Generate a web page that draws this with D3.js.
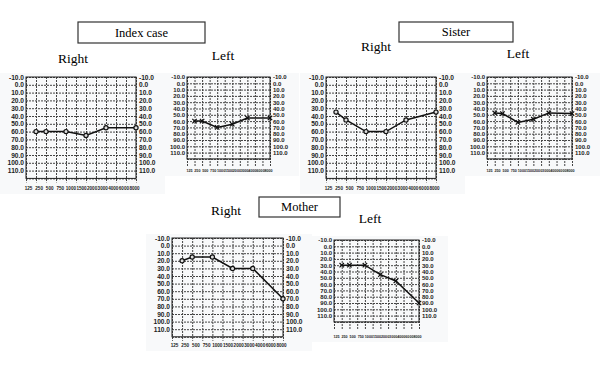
<!DOCTYPE html>
<html>
<head>
<meta charset="utf-8">
<script src="https://cdn.jsdelivr.net/npm/d3@7"></script>
<style>
  body { margin: 0; background: #fff; }
  svg { display: block; }
</style>
</head>
<body>
<div id="chart"></div>
<script>
// Frequency labels (Hz) and hearing level ticks (dB)
const freqLabels = ["125", "250", "500", "750", "1000", "1500", "2000", "3000", "4000", "6000", "8000"];
const dbTicks = [-10, 0, 10, 20, 30, 40, 50, 60, 70, 80, 90, 100, 110];
// grid column of each tested frequency (250, 500, 1000, 2000, 4000, 8000)
const testCols = [1, 2, 4, 6, 8, 11];

// Thresholds (dB HL)
const indexRight = [60, 60, 60, 65, 55, 55];
const indexLeft = [60, 60, 70, 65, 55, 55];
const sisterRight = [35, 45, 60, 60, 45, 35];
const sisterLeft = [47, 48, 62, 57, 47, 48];
const motherRight = [20, 15, 15, 30, 30, 70];
const motherLeft = [30, 30, 30, 45, 55, 90];

const width = 600, height = 365;

const svg = d3.select("#chart")
    .append("svg")
    .attr("width", width)
    .attr("height", height);

// Panel layout
const panels = [
    {vals: indexRight, ear: "R", x0: 26, x1: 136, y0: 77, row: 7.8, fs: 6.6, xl: 188, ext: 4, xf: 4.6},
    {vals: indexLeft, ear: "L", x0: 187, x1: 270, y0: 77, row: 6.3, fs: 6, xl: 170, ext: 8, xf: 3.7},
    {vals: sisterRight, ear: "R", x0: 326, x1: 436, y0: 77, row: 7.8, fs: 6.6, xl: 188, ext: 4, xf: 4.6},
    {vals: sisterLeft, ear: "L", x0: 487, x1: 572, y0: 77, row: 6.3, fs: 6, xl: 170, ext: 8, xf: 3.7},
    {vals: motherRight, ear: "R", x0: 172, x1: 283, y0: 238, row: 7.6, fs: 6.6, xl: 345, ext: 4, xf: 4.6},
    {vals: motherLeft, ear: "L", x0: 334, x1: 419, y0: 240, row: 6.3, fs: 6, xl: 336, ext: 8, xf: 3.7}
];

// Title boxes and ear labels
const boxes = [
    {text: "Index case", x: 78, y: 22, w: 127, h: 21},
    {text: "Sister", x: 399, y: 22, w: 114, h: 20},
    {text: "Mother", x: 259, y: 197, w: 81, h: 20}
];
const earTitles = [
    {text: "Right", x: 73, y: 63}, {text: "Left", x: 223, y: 60},
    {text: "Right", x: 376, y: 51}, {text: "Left", x: 518, y: 58},
    {text: "Right", x: 226, y: 215}, {text: "Left", x: 370, y: 223}
];

boxes.forEach(b => {
    svg.append("rect")
        .attr("x", b.x).attr("y", b.y)
        .attr("width", b.w).attr("height", b.h)
        .attr("fill", "#fff")
        .attr("stroke", "#333")
        .attr("stroke-width", 1.2);
    svg.append("text")
        .attr("x", b.x + b.w / 2).attr("y", b.y + b.h / 2 + 4)
        .attr("text-anchor", "middle")
        .style("font-family", "Liberation Serif, serif")
        .style("font-size", "12.5px")
        .text(b.text);
});

earTitles.forEach(t => {
    svg.append("text")
        .attr("x", t.x).attr("y", t.y)
        .attr("text-anchor", "middle")
        .style("font-family", "Liberation Serif, serif")
        .style("font-size", "13.5px")
        .text(t.text);
});

panels.forEach(p => {
    const yBottom = p.y0 + 13 * p.row;
    const x = d3.scaleLinear().domain([0, 11]).range([p.x0, p.x1]);
    const y = d3.scaleLinear().domain([-10, 120]).range([p.y0, yBottom]);
    const xLab = d3.scalePoint().domain(freqLabels).range([p.x0 + 2, p.x1 - 2]);
    const g = svg.append("g");

    // faint scanned paper behind the chart
    g.append("rect")
        .attr("x", p.x0 - 26).attr("y", p.y0 - 4)
        .attr("width", p.x1 - p.x0 + 55).attr("height", p.xl - p.y0 + 10)
        .attr("fill", "#f8f9fa");

    // horizontal grid + left labels
    g.append("g")
        .attr("transform", `translate(${p.x0},0)`)
        .call(d3.axisLeft(y).tickValues(dbTicks.concat([120]))
            .tickSize(-(p.x1 - p.x0))
            .tickFormat(d => d === 120 ? "" : d.toFixed(1)))
        .call(a => a.select(".domain").remove())
        .call(a => a.selectAll("line").attr("stroke", "#444").attr("stroke-dasharray", "2,1"))
        .call(a => a.selectAll("text").attr("x", -2)
            .style("font-family", "Liberation Sans, sans-serif")
            .style("font-weight", "bold").style("font-size", p.fs + "px").attr("fill", "#222"));

    // right labels
    g.append("g")
        .attr("transform", `translate(${p.x1},0)`)
        .call(d3.axisRight(y).tickValues(dbTicks).tickSize(0)
            .tickFormat(d => d.toFixed(1)))
        .call(a => a.select(".domain").remove())
        .call(a => a.selectAll("text").attr("x", 3)
            .style("font-family", "Liberation Sans, sans-serif")
            .style("font-weight", "bold").style("font-size", p.fs + "px").attr("fill", "#222"));

    // vertical grid
    g.append("g")
        .attr("transform", `translate(0,${p.y0})`)
        .call(d3.axisBottom(x).tickValues(d3.range(0, 12))
            .tickSize(yBottom - p.y0 + p.ext).tickFormat(""))
        .call(a => a.select(".domain").remove())
        .call(a => a.selectAll("line").attr("stroke", "#444").attr("stroke-dasharray", "2,1"));

    // outer frame
    g.append("rect")
        .attr("x", p.x0).attr("y", p.y0)
        .attr("width", p.x1 - p.x0).attr("height", yBottom - p.y0)
        .attr("fill", "none").attr("stroke", "#222").attr("stroke-width", 1);

    // frequency labels
    g.append("g")
        .attr("transform", `translate(0,${p.xl - 4})`)
        .call(d3.axisBottom(xLab).tickSize(0))
        .call(a => a.select(".domain").remove())
        .call(a => a.selectAll("text")
            .style("font-family", "Liberation Sans, sans-serif")
            .style("font-weight", "bold").style("font-size", p.xf + "px").attr("fill", "#222"));

    // threshold line
    const pts = p.vals.map((v, i) => [x(testCols[i]), y(v)]);
    g.append("path")
        .attr("d", d3.line()(pts))
        .attr("fill", "none")
        .attr("stroke", "#111")
        .attr("stroke-width", 1.5);

    // markers: o for right ear, x for left ear
    if (p.ear === "R") {
        g.selectAll(".mk").data(pts).enter().append("circle")
            .attr("cx", d => d[0]).attr("cy", d => d[1]).attr("r", 2.1)
            .attr("fill", "#ddd").attr("stroke", "#111").attr("stroke-width", 1.2);
    } else {
        g.selectAll(".mk").data(pts).enter().append("path")
            .attr("d", d => `M${d[0] - 2.2},${d[1] - 2.2}L${d[0] + 2.2},${d[1] + 2.2}M${d[0] - 2.2},${d[1] + 2.2}L${d[0] + 2.2},${d[1] - 2.2}`)
            .attr("stroke", "#111").attr("stroke-width", 1.2);
    }
});
</script>
</body>
</html>
